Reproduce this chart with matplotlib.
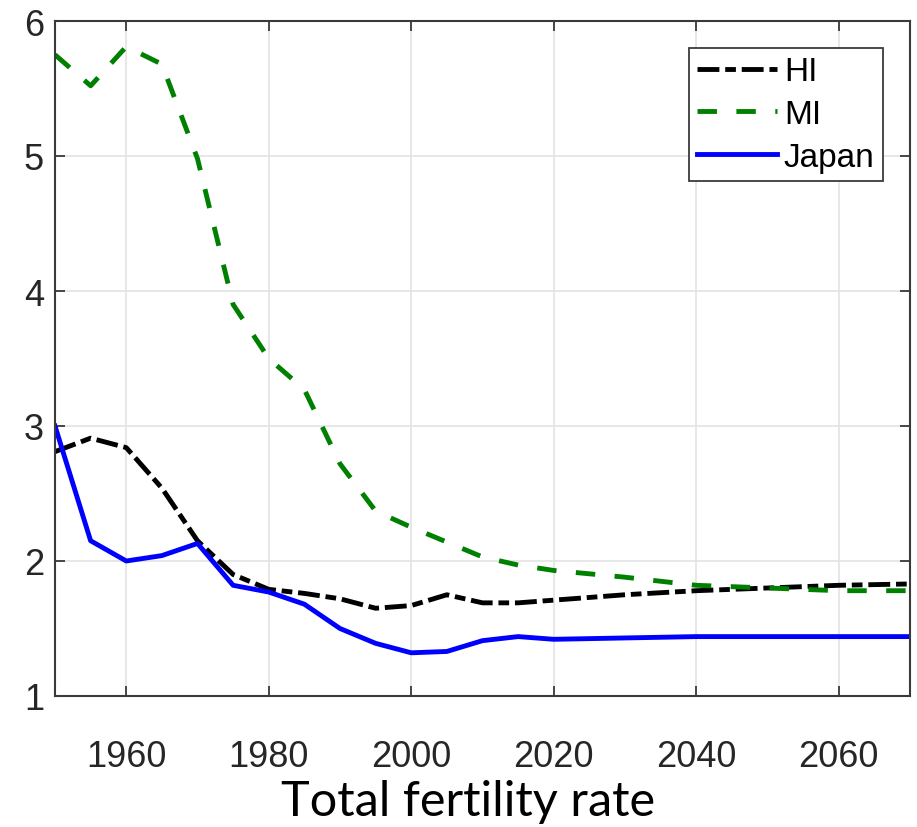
import matplotlib.pyplot as plt

# years for all series
years = [1950, 1955, 1960, 1965, 1970, 1975, 1980, 1985, 1990, 1995, 2000,
         2005, 2010, 2015, 2020, 2030, 2040, 2050, 2060, 2070]

hi = [2.81, 2.91, 2.84, 2.54, 2.15, 1.90, 1.79, 1.76, 1.72, 1.65, 1.67,
      1.75, 1.69, 1.69, 1.71, 1.75, 1.78, 1.80, 1.82, 1.83]
mi = [5.75, 5.52, 5.81, 5.68, 4.98, 3.90, 3.50, 3.27, 2.72, 2.37, 2.25,
      2.14, 2.03, 1.97, 1.93, 1.88, 1.82, 1.80, 1.78, 1.78]
japan = [3.00, 2.15, 2.00, 2.04, 2.13, 1.82, 1.77, 1.68, 1.50, 1.39, 1.32,
         1.33, 1.41, 1.44, 1.42, 1.43, 1.44, 1.44, 1.44, 1.44]

xticks = [1960, 1980, 2000, 2020, 2040, 2060]
yticks = [1, 2, 3, 4, 5, 6]

plt.rcParams["font.family"] = ["Liberation Sans", "DejaVu Sans"]

fig = plt.figure(figsize=(9.17, 8.28), dpi=100)
ax = fig.add_axes([55 / 917, 1 - 697 / 828, 855 / 917, 675 / 828])

lw = 3.5
ax.plot(years, hi, color="black", lw=lw, linestyle=(0, (4.5, 1.2, 2.2, 1.2)), label="HI")
ax.plot(years, mi, color="#008000", lw=lw, linestyle=(0, (4, 4)), label="MI")
ax.plot(years, japan, color="#0000ff", lw=lw, label="Japan")

ax.set_xlim(1950, 2070)
ax.set_ylim(1, 6)
ax.set_xticks(xticks)
ax.set_yticks(yticks)
ax.grid(True, color="#e3e3e3", lw=1.2)
ax.set_axisbelow(True)

for s in ax.spines.values():
    s.set_color("#3a3a3a")
    s.set_linewidth(1.5)
ax.tick_params(axis="both", direction="in", length=7, width=1.3, color="#3a3a3a",
               labelcolor="#262626", labelsize=26, top=True, right=True)
ax.tick_params(axis="x", pad=31)
ax.tick_params(axis="y", pad=8)

leg = ax.legend(loc="upper right", bbox_to_anchor=(883 / 917, 1 - 49 / 828),
                bbox_transform=fig.transFigure, fontsize=24, handlelength=2.4,
                handletextpad=0.2, borderpad=0.25, labelspacing=0.35,
                fancybox=False, framealpha=1, edgecolor="#3a3a3a",
                borderaxespad=0)
leg.get_frame().set_linewidth(1.3)

fig.text(468 / 917, 1 - 802 / 828, "Total fertility rate", ha="center", va="center",
         fontsize=35, family=["Lato", "DejaVu Sans"], color="black")

fig.savefig("out.png", dpi=100)
